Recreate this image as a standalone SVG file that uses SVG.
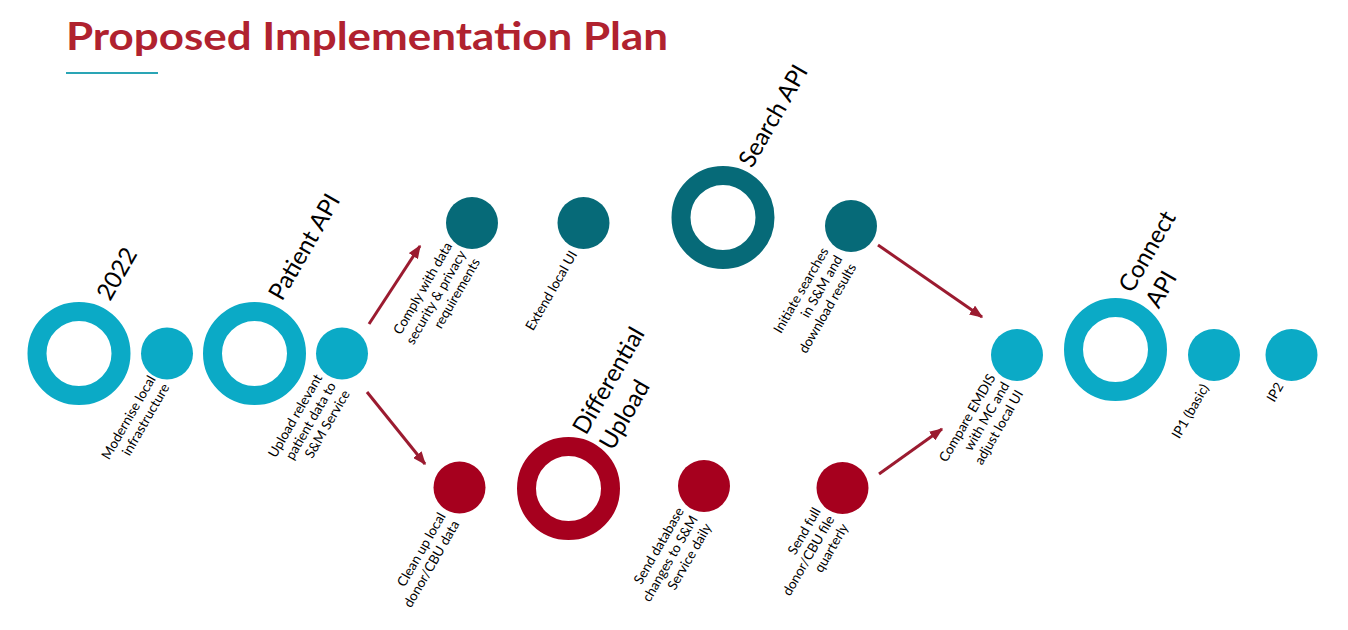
<svg xmlns="http://www.w3.org/2000/svg" width="1348" height="630" viewBox="0 0 1348 630">
<defs>
<style>
.ring-l{fill:none;stroke:#0BAAC6;stroke-width:19}
.dot-l{fill:#0BAAC6}
.ring-d{fill:none;stroke:#066A78;stroke-width:19}
.dot-d{fill:#066A78}
.ring-r{fill:none;stroke:#A6001E;stroke-width:19}
.dot-r{fill:#A6001E}
.lbl{font-family:Lato,"Liberation Sans",sans-serif;font-size:13.5px;fill:#000;text-anchor:end}
.big{font-family:Lato,"Liberation Sans",sans-serif;font-size:24px;fill:#000}
.conn{stroke:#9B1B30;stroke-width:3;fill:none;marker-end:url(#ah)}
</style>
<marker id="ah" viewBox="0 0 10 8" markerWidth="4.5" markerHeight="3.6" refX="9" refY="4" orient="auto">
<path d="M0,0 L10,4 L0,8 z" fill="#9B1B30"/>
</marker>
</defs>
<rect width="1348" height="630" fill="#fff"/>
<g id="title">
<text x="66" y="50" font-family="Lato,'Liberation Sans',sans-serif" font-weight="bold" font-size="39" fill="#B0222F" textLength="602" lengthAdjust="spacingAndGlyphs">Proposed Implementation Plan</text>
<line x1="66" y1="73" x2="158" y2="73" stroke="#2AA5B5" stroke-width="2"/>
</g>
<g id="connectors">
<line class="conn" x1="369" y1="324" x2="420" y2="246"/>
<line class="conn" x1="367" y1="392" x2="425" y2="464"/>
<line class="conn" x1="878" y1="245" x2="982" y2="317"/>
<line class="conn" x1="879" y1="474" x2="942" y2="429"/>
</g>
<g id="m2022">
<circle class="ring-l" cx="79" cy="353.5" r="42"/>
<text class="big" transform="translate(110,302) rotate(-60)">2022</text>
</g>
<g id="modernise">
<circle class="dot-l" cx="167" cy="353.5" r="26"/>
<text class="lbl" transform="translate(156,379) rotate(-60)"><tspan x="0" y="0">Modernise local</tspan><tspan x="0" y="16">infrastructure</tspan></text>
</g>
<g id="patient-api">
<circle class="ring-l" cx="254.5" cy="353.5" r="42"/>
<text class="big" transform="translate(282,302) rotate(-60)">Patient API</text>
</g>
<g id="upload">
<circle class="dot-l" cx="342" cy="353.5" r="26"/>
<text class="lbl" transform="translate(322.6,377.5) rotate(-60)"><tspan x="0" y="0">Upload relevant</tspan><tspan x="0" y="16">patient data to</tspan><tspan x="0" y="32">S&amp;M Service</tspan></text>
</g>
<g id="comply">
<circle class="dot-d" cx="472" cy="223" r="26"/>
<text class="lbl" transform="translate(452.6,245.8) rotate(-60)"><tspan x="0" y="0">Comply with data</tspan><tspan x="0" y="16">security &amp; privacy</tspan><tspan x="0" y="32">requirements</tspan></text>
</g>
<g id="extend">
<circle class="dot-d" cx="583.5" cy="223" r="26"/>
<text class="lbl" transform="translate(577.6,254.2) rotate(-60)">Extend local UI</text>
</g>
<g id="search-api">
<circle class="ring-d" cx="723" cy="217.5" r="42"/>
<text class="big" transform="translate(752,169) rotate(-60)">Search API</text>
</g>
<g id="initiate">
<circle class="dot-d" cx="851" cy="226" r="26"/>
<text class="lbl" transform="translate(829,251) rotate(-60)"><tspan x="0" y="0">Initiate searches</tspan><tspan x="0" y="16">in S&amp;M and</tspan><tspan x="0" y="32">download results</tspan></text>
</g>
<g id="clean">
<circle class="dot-r" cx="459.5" cy="487.5" r="26"/>
<text class="lbl" transform="translate(446,516) rotate(-60)"><tspan x="0" y="0">Clean up local</tspan><tspan x="0" y="16">donor/CBU data</tspan></text>
</g>
<g id="differential">
<circle class="ring-r" cx="568.5" cy="488.5" r="42"/>
<text class="big" transform="translate(586,436) rotate(-60)"><tspan x="0" y="0">Differential</tspan><tspan x="0" y="31">Upload</tspan></text>
</g>
<g id="send-db">
<circle class="dot-r" cx="704" cy="486" r="26"/>
<text class="lbl" transform="translate(684.3,510.8) rotate(-60)"><tspan x="0" y="0">Send database</tspan><tspan x="0" y="16">changes to S&amp;M</tspan><tspan x="0" y="32">Service daily</tspan></text>
</g>
<g id="send-full">
<circle class="dot-r" cx="842.5" cy="488" r="26"/>
<text class="lbl" transform="translate(821,511) rotate(-60)"><tspan x="0" y="0">Send full</tspan><tspan x="0" y="16">donor/CBU file</tspan><tspan x="0" y="32">quarterly</tspan></text>
</g>
<g id="compare">
<circle class="dot-l" cx="1017" cy="355" r="26"/>
<text class="lbl" transform="translate(996,377.5) rotate(-60)"><tspan x="0" y="0">Compare EMDIS</tspan><tspan x="0" y="16">with MC and</tspan><tspan x="0" y="32">adjust local UI</tspan></text>
</g>
<g id="connect-api">
<circle class="ring-l" cx="1115.5" cy="349.5" r="42"/>
<text class="big" transform="translate(1132,294) rotate(-60)"><tspan x="0" y="0">Connect</tspan><tspan x="0" y="31">API</tspan></text>
</g>
<g id="ip1">
<circle class="dot-l" cx="1214" cy="355" r="26"/>
<text class="lbl" transform="translate(1209.3,387.5) rotate(-60)">IP1 (basic)</text>
</g>
<g id="ip2">
<circle class="dot-l" cx="1291.5" cy="355" r="26"/>
<text class="lbl" transform="translate(1284,386) rotate(-60)">IP2</text>
</g>
</svg>
